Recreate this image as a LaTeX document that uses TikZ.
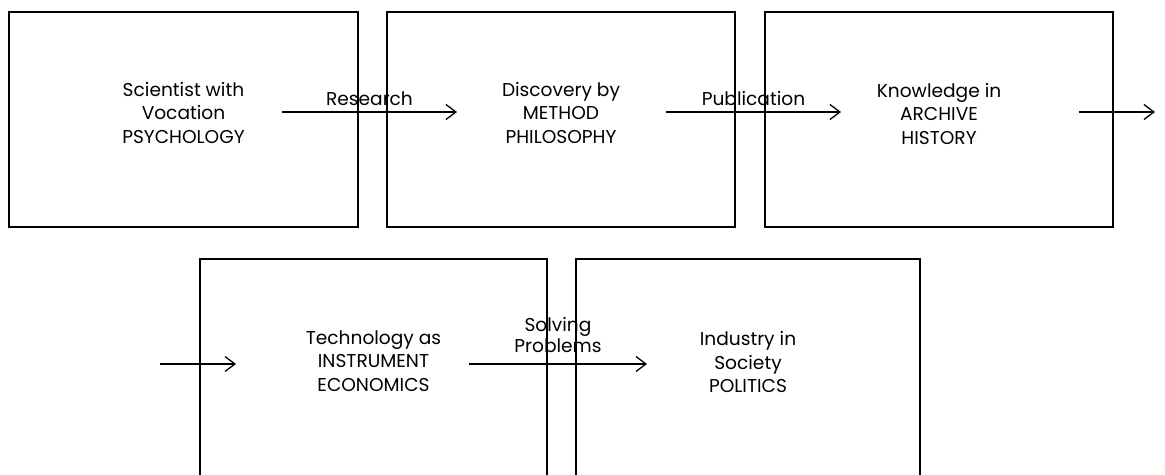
\documentclass[tikz,border=0pt]{standalone}
\usepackage{fontspec}
\setmainfont{Poppins}
\usetikzlibrary{arrows.meta}
\tikzset{
  stage/.style={draw, line width=0.95pt, inner sep=0pt, minimum height=107.5pt},
  stagetext/.style={align=center, inner sep=0pt},
  flow/.style={-{Straight Barb[length=5pt,width=7.5pt]}, line width=0.65pt},
}
\begin{document}
\begin{tikzpicture}[x=0.5pt, y=-0.5pt, font=\fontsize{9.3}{11.75}\selectfont]
    \clip (0,0) rectangle (1165,475);
    \fill[white] (0,0) rectangle (1165,475);
    % top row of boxes
    \node[stage, minimum width=174.5pt] (sci) at (183.5,119.5) {};
    \node[stage, minimum width=174pt] (disc) at (561,119.5) {};
    \node[stage, minimum width=174pt] (know) at (939,119.5) {};
    % bottom row, cut off by the page edge
    \node[stage, minimum width=173.5pt, minimum height=118pt] (tech) at (373.5,377) {};
    \node[stage, minimum width=172pt, minimum height=118pt] (ind) at (748,377) {};
    % texts in the boxes
    \node[stagetext] (scitxt) at ([yshift=3.5pt]sci.center) {Scientist with\\Vocation\\PSYCHOLOGY};
    \node[stagetext] (disctxt) at ([yshift=3.5pt]disc.center) {Discovery by\\METHOD\\PHILOSOPHY};
    \node[stagetext] (knowtxt) at ([yshift=3pt]know.center) {Knowledge in\\ARCHIVE\\HISTORY};
    \node[stagetext] (techtxt) at ([yshift=8pt]tech.center) {Technology as\\INSTRUMENT\\ECONOMICS};
    \node[stagetext] (indtxt) at ([yshift=7.5pt]ind.center) {Industry in\\Society\\POLITICS};
    % free ends of the outer arrows
    \coordinate (out) at (1155,112);
    \coordinate (in) at (160,364);
    % arrows between the stages
    \draw[flow] ([xshift=-38.5pt,yshift=3.75pt]sci.east) -- node[above, inner sep=3pt] {Research} ([xshift=35.5pt,yshift=3.75pt]disc.west);
    \draw[flow] ([xshift=-35pt,yshift=3.75pt]disc.east) -- node[above, inner sep=3pt] {Publication} ([xshift=38.5pt,yshift=3.75pt]know.west);
    \draw[flow] ([xshift=-17.5pt,yshift=3.75pt]know.east) -- (out);
    \draw[flow] (in) -- ([xshift=18.5pt,yshift=6.5pt]tech.west);
    \draw[flow] ([xshift=-39.5pt,yshift=6.5pt]tech.east) -- node[above, align=center, inner sep=3pt, yshift=2.5pt, font=\fontsize{9.3}{8.5}\selectfont] {Solving\\Problems} ([xshift=36pt,yshift=6.5pt]ind.west);
\end{tikzpicture}
\end{document}
